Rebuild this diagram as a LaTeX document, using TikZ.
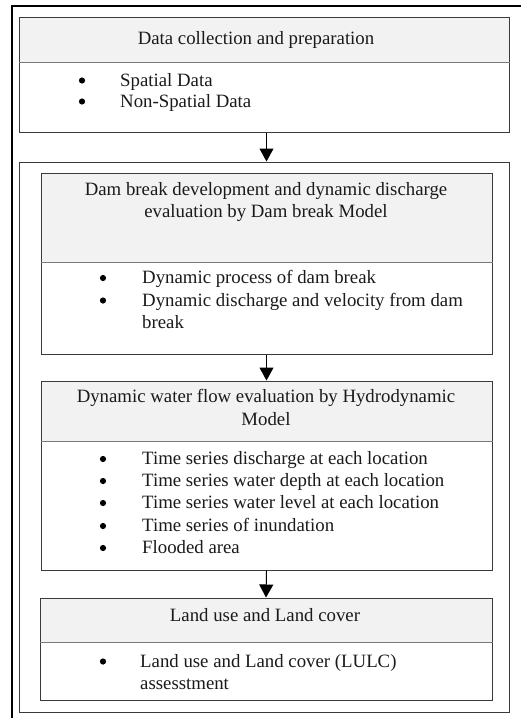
\documentclass[tikz,border=0pt]{standalone}
\usepackage{fontspec}
\setmainfont{Liberation Serif}
\usetikzlibrary{arrows.meta}
\definecolor{hdr}{HTML}{F2F2F2}
\definecolor{edge}{HTML}{3A3A3A}
\definecolor{divc}{HTML}{7A7A7A}
\definecolor{ink}{HTML}{1A1A1A}
\begin{document}
\begin{tikzpicture}[x=1pt,y=-1pt,
  font=\fontsize{18.8}{22.5}\selectfont,
  hbox/.style={draw=edge, line width=1pt, fill=hdr, inner sep=0pt},
  bbox/.style={draw=edge, line width=1pt, fill=white, inner sep=0pt},
  divider/.style={draw=divc, line width=1.6pt},
  arr/.style={draw=black, line width=1pt, -{Triangle[width=14pt,length=13pt]}},
  txt/.style={anchor=base, inner sep=0pt, text=ink},
  lft/.style={anchor=base west, inner sep=0pt, text=ink},
  bul/.style={circle, fill=black, inner sep=0pt, minimum size=6.2pt, yshift=5.5pt}]
\useasboundingbox (0,0) rectangle (521,718);
\fill[white] (0,0) rectangle (521,718);
\begin{scope}
  \clip (0,0) rectangle (521,718);
  \draw[black, line width=2.5pt] (12,6) rectangle (540,740);
\end{scope}
% box 1
\node[hbox, minimum width=490pt, minimum height=45pt] (b1h) at (264,39.5) {};
\node[bbox, minimum width=490pt, minimum height=70pt] (b1b) at (264,97) {};
\draw[divider] (b1h.south west) -- (b1h.south east);
\node[txt] (t1) at (256,44) {Data collection and preparation};
\node[bul] (u11) at (82,86) {};
\node[lft] (i11) at (120,86) {Spatial Data};
\node[bul] (u12) at (82,107) {};
\node[lft] (i12) at (120,107) {Non-Spatial Data};
% box 2 outer
\node[bbox, minimum width=490pt, minimum height=550pt] (b2) at (264,437) {};
% A
\node[hbox, minimum width=451pt, minimum height=89pt] (ah) at (266.5,217.5) {};
\node[bbox, minimum width=451pt, minimum height=92pt] (ab) at (266.5,308) {};
\draw[divider] (ah.south west) -- (ah.south east);
\node[txt] (ta1) at (266,195) {Dam break development and dynamic discharge};
\node[txt] (ta2) at (266,217.5) {evaluation by Dam break Model};
\node[bul] (ua1) at (103,283.5) {};
\node[lft] (ia1) at (142,283.5) {Dynamic process of dam break};
\node[bul] (ua2) at (103,306) {};
\node[lft] (ia2) at (142,306) {Dynamic discharge and velocity from dam};
\node[lft] (ia3) at (142,328.5) {break};
% B
\node[hbox, minimum width=451pt, minimum height=60pt] (bh) at (266.5,411) {};
\node[bbox, minimum width=451pt, minimum height=129pt] (bb) at (266.5,505.5) {};
\draw[divider] (bh.south west) -- (bh.south east);
\node[txt] (tb1) at (266,402.5) {Dynamic water flow evaluation by Hydrodynamic};
\node[txt] (tb2) at (266,425) {Model};
\node[bul] (ub1) at (103,464.5) {};
\node[lft] (ib1) at (142,464.5) {Time series discharge at each location};
\node[bul] (ub2) at (103,486.5) {};
\node[lft] (ib2) at (142,486.5) {Time series water depth at each location};
\node[bul] (ub3) at (103,508.5) {};
\node[lft] (ib3) at (142,508.5) {Time series water level at each location};
\node[bul] (ub4) at (103,531.5) {};
\node[lft] (ib4) at (142,531.5) {Time series of inundation};
\node[bul] (ub5) at (103,553.5) {};
\node[lft] (ib5) at (142,553.5) {Flooded area};
% C
\node[hbox, minimum width=452pt, minimum height=44pt] (ch) at (266,620) {};
\node[bbox, minimum width=452pt, minimum height=58pt] (cb) at (266,671) {};
\draw[divider] (ch.south west) -- (ch.south east);
\node[txt] (tc1) at (265,621.5) {Land use and Land cover};
\node[bul] (uc1) at (103,667) {};
\node[lft] (ic1) at (140,667) {Land use and Land cover (LULC)};
\node[lft] (ic2) at (140,689.5) {assesstment};
% arrows
\draw[arr] (b1b.south -| ah.north) -- (b2.north -| ah.north);
\draw[arr] (ab.south) -- (bh.north);
\draw[arr] (bb.south) -- (ch.north);
\end{tikzpicture}
\end{document}
